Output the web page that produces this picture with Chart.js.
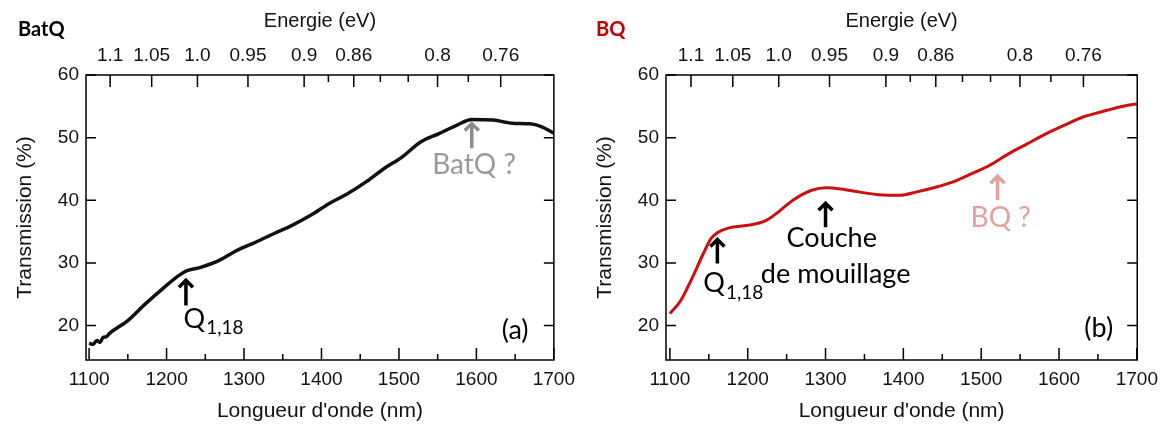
<!DOCTYPE html>
<html>
<head>
<meta charset="utf-8">
<script src="https://cdn.jsdelivr.net/npm/chart.js@4.4.1/dist/chart.umd.min.js"></script>
<style>
  body { margin: 0; background: #fff; width: 1166px; height: 427px; position: relative; overflow: hidden; }
  canvas { position: absolute; top: 0; }
  #chartA { left: 0; }
  #chartB { left: 583px; }
  .tag { position: absolute; top: 16px; line-height: 1; font: bold 20px Lato, sans-serif; }
</style>
</head>
<body>
<canvas id="chartA" width="583" height="427"></canvas>
<canvas id="chartB" width="583" height="427"></canvas>
<div class="tag" style="left:18px;color:#000">BatQ</div>
<div class="tag" style="left:596px;color:#c00000">BQ</div>
<script>
// axes
const wavelengthTicks = [1100, 1200, 1300, 1400, 1500, 1600, 1700];
const wavelengthMinorTicks = [1150, 1250, 1350, 1450, 1550, 1650];
const energyTicks = [1.1, 1.05, 1.0, 0.95, 0.9, 0.88, 0.86, 0.84, 0.82, 0.8, 0.78, 0.76];
const energyLabels = ['1.1', '1.05', '1.0', '0.95', '0.9', '', '0.86', '', '', '0.8', '', '0.76'];
const transmissionTicks = [20, 30, 40, 50, 60];
const hc = 1239.84; // nm * eV

// (a) BatQ
const batqWavelength = [1100, 1105, 1110, 1114, 1118, 1122, 1126, 1150, 1173, 1197, 1216, 1225, 1244, 1268, 1291, 1315, 1339, 1362, 1386, 1410, 1433, 1457, 1480, 1504, 1528, 1551, 1575, 1594, 1622, 1646, 1669, 1683, 1700];
const batqTransmission = [17.2, 17.0, 17.6, 17.3, 18.1, 18.2, 18.7, 20.8, 23.5, 26.1, 28.0, 28.7, 29.3, 30.4, 32.0, 33.3, 34.7, 36.0, 37.6, 39.5, 41.0, 42.9, 45.0, 46.9, 49.3, 50.6, 52.0, 52.9, 52.8, 52.3, 52.2, 51.8, 50.7];

// (b) BQ
const bqWavelength = [1100, 1114, 1129, 1143, 1153, 1162, 1176, 1200, 1224, 1239, 1258, 1282, 1301, 1320, 1344, 1368, 1396, 1416, 1439, 1463, 1487, 1511, 1535, 1559, 1583, 1607, 1631, 1654, 1678, 1700];
const bqTransmission = [21.9, 24.0, 27.7, 31.5, 33.9, 34.9, 35.6, 36.0, 36.8, 38.1, 40.0, 41.6, 42.0, 41.8, 41.3, 40.9, 40.8, 41.3, 42.0, 42.9, 44.2, 45.6, 47.4, 49.0, 50.6, 52.0, 53.3, 54.1, 54.9, 55.4];

// annotations: [wavelength, tail, head, colour]
const arrowsA = [[1225, 23.2, 27.4, '#000'], [1594, 48.3, 52.4, '#8c8c8c']];
const notesA = [
  { text: 'Q', sub: '1,18', x: 1222, y: 21.0, color: '#000', align: 'left' },
  { text: 'BatQ ?', x: 1597, y: 45.6, color: '#999', align: 'center', size: 28 },
  { text: '(a)', x: 1650, y: 19.2, color: '#000', align: 'center' }
];
const arrowsB = [[1161, 29.9, 33.9, '#000'], [1300, 35.7, 39.7, '#000'], [1521, 40.0, 44.0, '#e3a0a0']];
const notesB = [
  { text: 'Q', sub: '1,18', x: 1143, y: 26.7, color: '#000', align: 'left' },
  { text: 'Couche', x: 1308, y: 34.0, color: '#000', align: 'center' },
  { text: 'de mouillage', x: 1313, y: 28.2, color: '#000', align: 'center' },
  { text: 'BQ ?', x: 1525, y: 37.1, color: '#e3a0a0', align: 'center', size: 28 },
  { text: '(b)', x: 1651, y: 19.6, color: '#000', align: 'center' }
];

const sans = "'Liberation Sans', Arial, sans-serif";
const tickFont = { family: sans, size: 19 };
const noteFont = 'Lato, sans-serif';

function overlay(arrows, notes) {
  return {
    id: 'frame',
    afterDraw(chart) {
      const { ctx, chartArea: a, scales } = chart;
      const xs = scales.x, ys = scales.y;
      ctx.save();
      ctx.strokeStyle = '#000';
      ctx.lineWidth = 1.5;
      ctx.strokeRect(a.left, a.top, a.right - a.left, a.bottom - a.top);
      ctx.beginPath();
      wavelengthTicks.forEach(v => {
        const x = xs.getPixelForValue(v);
        ctx.moveTo(x, a.bottom); ctx.lineTo(x, a.bottom - 12);
      });
      wavelengthMinorTicks.forEach(v => {
        const x = xs.getPixelForValue(v);
        ctx.moveTo(x, a.bottom); ctx.lineTo(x, a.bottom - 6);
      });
      energyTicks.forEach((e, i) => {
        const x = xs.getPixelForValue(hc / e);
        ctx.moveTo(x, a.top); ctx.lineTo(x, a.top + (energyLabels[i] ? 12 : 7));
      });
      transmissionTicks.forEach(v => {
        const y = ys.getPixelForValue(v);
        ctx.moveTo(a.left, y); ctx.lineTo(a.left + 10, y);
        ctx.moveTo(a.right, y); ctx.lineTo(a.right - 10, y);
      });
      ctx.stroke();

      // arrows
      ctx.lineWidth = 3.5;
      ctx.lineCap = 'butt';
      arrows.forEach(([w, from, to, color]) => {
        const x = xs.getPixelForValue(w);
        const y0 = ys.getPixelForValue(from), y1 = ys.getPixelForValue(to);
        ctx.strokeStyle = color;
        ctx.beginPath();
        ctx.moveTo(x, y0); ctx.lineTo(x, y1 + 1);
        ctx.moveTo(x - 7, y1 + 8); ctx.lineTo(x, y1 + 1); ctx.lineTo(x + 7, y1 + 8);
        ctx.stroke();
      });

      // labels
      ctx.textBaseline = 'middle';
      notes.forEach(n => {
        const x = xs.getPixelForValue(n.x), y = ys.getPixelForValue(n.y);
        ctx.fillStyle = n.color;
        ctx.font = (n.size || 27) + 'px ' + noteFont;
        ctx.textAlign = n.align;
        ctx.fillText(n.text, x, y);
        if (n.sub) {
          const w = ctx.measureText(n.text).width;
          ctx.font = '19px ' + noteFont;
          ctx.textAlign = 'left';
          ctx.fillText(n.sub, x + w + 1, y + 9);
        }
      });
      ctx.restore();
    }
  };
}

function makeChart(id, wl, tr, color, lineWidth, xMin, xMax, yWidth, padRight, yTitlePad, arrows, notes) {
  const ticks = { color: '#111', font: tickFont, maxRotation: 0, autoSkip: false };
  return new Chart(document.getElementById(id), {
    type: 'line',
    data: {
      datasets: [{
        data: wl.map((x, i) => ({ x, y: tr[i] })),
        borderColor: color,
        borderWidth: lineWidth,
        pointRadius: 0,
        cubicInterpolationMode: 'monotone'
      }]
    },
    options: {
      responsive: false,
      animation: false,
      events: [],
      layout: { padding: { left: 0, top: 0, bottom: 0, right: padRight } },
      plugins: { legend: { display: false }, tooltip: { enabled: false } },
      scales: {
        x: {
          type: 'linear', position: 'bottom', min: xMin, max: xMax,
          afterBuildTicks: s => { s.ticks = wavelengthTicks.map(value => ({ value })); },
          afterFit: s => { s.height = 67; },
          grid: { display: false, drawTicks: false, tickLength: 0 },
          border: { display: false },
          ticks: { ...ticks, padding: 8, callback: v => String(v) },
          title: { display: true, text: "Longueur d'onde (nm)", color: '#111', font: { family: sans, size: 21 }, padding: { top: 0, bottom: 3 } }
        },
        x2: {
          type: 'linear', position: 'top', min: xMin, max: xMax,
          afterBuildTicks: s => { s.ticks = energyTicks.map(e => ({ value: hc / e })); },
          afterFit: s => { s.height = 75; },
          grid: { display: false, drawTicks: false, tickLength: 0 },
          border: { display: false },
          ticks: { ...ticks, padding: 8, callback: (v, i) => energyLabels[i] },
          title: { display: true, text: 'Energie (eV)', color: '#111', font: { family: sans, size: 20 }, padding: { top: 9, bottom: 0 } }
        },
        y: {
          type: 'linear', position: 'left', min: 14.5, max: 60,
          afterBuildTicks: s => { s.ticks = transmissionTicks.map(value => ({ value })); },
          afterFit: s => { s.width = yWidth; },
          grid: { display: false, drawTicks: false, tickLength: 0 },
          border: { display: false },
          ticks: { ...ticks, padding: 7 },
          title: { display: true, text: 'Transmission (%)', color: '#111', font: { family: sans, size: 21 }, padding: { top: yTitlePad, bottom: 0 } }
        }
      }
    },
    plugins: [overlay(arrows, notes)]
  });
}

makeChart('chartA', batqWavelength, batqTransmission, '#111', 3.5, 1096, 1700, 86, 24, 13, arrowsA, notesA);
makeChart('chartB', bqWavelength, bqTransmission, '#cc1010', 3, 1095, 1700.5, 83, 27, 10, arrowsB, notesB);
</script>
</body>
</html>
